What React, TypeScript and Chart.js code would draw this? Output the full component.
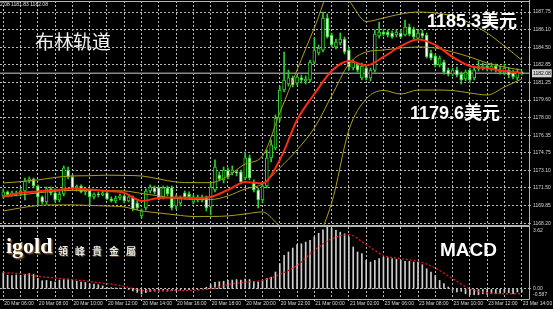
import React, { useEffect, useRef } from 'react';
import { Chart, registerables } from 'chart.js';

Chart.register(...registerables);

// ---------- data ----------
const timeLabels = [
  '20 Mar 06:00', '20 Mar 08:00', '20 Mar 10:00', '20 Mar 12:00', '20 Mar 14:00', '20 Mar 16:00',
  '20 Mar 18:00', '20 Mar 20:00', '20 Mar 22:00', '21 Mar 00:00', '21 Mar 02:00', '23 Mar 06:00',
  '23 Mar 08:00', '23 Mar 10:00', '23 Mar 12:00', '23 Mar 14:00',
];
const priceTickLabels = [
  '1187.75', '1186.10', '1184.50', '1182.85', '1181.25', '1179.60', '1178.00',
  '1176.35', '1174.75', '1173.10', '1171.50', '1169.85', '1168.20',
];
const macdTickLabels = ['3.62', '0.00', '-0.587'];
const macdTickValues = [3.62, 0, -0.587];
const lastPrice = 1182.08;
const priceMin = 1168.04;
const priceMax = 1188.77;
const macdMin = -0.587;
const macdMax = 3.62;
const barMin = -0.764;
const barMax = 121.69;

const opens = [
  1170.73, 1171.10, 1170.82, 1171.01, 1170.91, 1171.19, 1172.12, 1172.30, 1171.65, 1170.64,
  1170.17, 1171.38, 1171.01, 1170.36, 1170.91, 1173.13, 1172.49, 1171.47, 1171.65, 1171.10,
  1171.28, 1170.64, 1170.91, 1170.82, 1171.01, 1170.45, 1170.27, 1170.54, 1170.73, 1170.27,
  1170.64, 1170.08, 1168.88, 1169.62, 1171.19, 1171.47, 1171.47, 1170.64, 1171.47, 1171.47,
  1169.80, 1170.08, 1171.01, 1170.91, 1170.17, 1170.36, 1170.64, 1170.64, 1169.71, 1171.28,
  1172.67, 1172.21, 1173.13, 1172.86, 1172.95, 1172.95, 1172.39, 1174.25, 1172.02, 1171.28,
  1170.36, 1171.65, 1174.25, 1175.17, 1177.94, 1180.53, 1181.09, 1181.65, 1181.18, 1181.65,
  1181.37, 1181.46, 1183.12, 1183.96, 1184.23, 1187.20, 1185.62, 1184.51, 1184.88, 1185.25,
  1184.23, 1182.57, 1182.85, 1181.65, 1182.57, 1181.65, 1182.38, 1185.53, 1185.90, 1185.90,
  1185.81, 1185.62, 1185.81, 1185.62, 1186.36, 1186.18, 1185.34, 1185.81, 1185.62, 1183.96,
  1183.68, 1182.85, 1183.12, 1182.38, 1182.01, 1182.38, 1182.01, 1181.55, 1182.38, 1181.65,
  1182.48, 1182.57, 1182.75, 1182.48, 1182.75, 1182.20, 1182.11, 1182.38, 1182.11, 1181.65,
  1182.20,
];
const highs = [
  1171.38, 1171.19, 1171.19, 1171.19, 1171.47, 1172.39, 1172.49, 1172.39, 1171.75, 1170.73,
  1171.56, 1171.56, 1171.38, 1171.10, 1173.51, 1173.41, 1172.67, 1171.75, 1171.75, 1171.38,
  1171.38, 1171.01, 1171.10, 1171.19, 1171.10, 1170.64, 1170.73, 1170.91, 1170.82, 1170.73,
  1170.73, 1170.27, 1169.53, 1171.38, 1171.75, 1171.65, 1171.56, 1171.65, 1171.65, 1171.65,
  1170.82, 1170.73, 1171.19, 1171.10, 1170.82, 1170.82, 1170.82, 1170.73, 1171.93, 1174.06,
  1172.95, 1173.41, 1173.32, 1173.51, 1173.13, 1173.13, 1174.80, 1174.52, 1172.21, 1171.47,
  1171.93, 1174.99, 1175.91, 1178.22, 1180.90, 1184.05, 1182.38, 1181.83, 1181.92, 1181.92,
  1181.83, 1183.31, 1185.34, 1184.70, 1187.75, 1187.57, 1185.81, 1185.25, 1185.81, 1185.44,
  1184.42, 1183.31, 1183.03, 1183.03, 1182.75, 1182.57, 1186.09, 1186.83, 1186.18, 1186.09,
  1185.99, 1186.09, 1186.09, 1187.01, 1186.64, 1186.36, 1186.09, 1186.09, 1185.81, 1184.23,
  1183.86, 1183.68, 1183.31, 1182.57, 1182.57, 1182.66, 1182.20, 1182.38, 1182.57, 1182.75,
  1183.22, 1183.03, 1182.94, 1183.03, 1182.94, 1182.75, 1182.94, 1182.57, 1182.38, 1182.48,
  1182.29,
];
const lows = [
  1170.54, 1170.64, 1170.73, 1170.73, 1170.73, 1170.36, 1171.93, 1171.47, 1169.80, 1169.99,
  1169.99, 1170.82, 1170.17, 1170.17, 1170.73, 1172.30, 1171.38, 1171.19, 1171.01, 1170.82,
  1169.90, 1170.45, 1170.64, 1170.73, 1170.36, 1170.17, 1170.08, 1170.36, 1170.08, 1170.17,
  1169.34, 1169.43, 1168.69, 1169.43, 1171.01, 1170.91, 1170.36, 1170.45, 1170.73, 1169.43,
  1169.53, 1169.80, 1170.45, 1170.45, 1169.99, 1170.17, 1170.17, 1169.34, 1168.97, 1171.10,
  1172.12, 1171.93, 1172.30, 1172.67, 1172.58, 1171.84, 1172.21, 1172.21, 1171.10, 1169.62,
  1170.08, 1171.47, 1173.88, 1174.99, 1177.67, 1180.35, 1180.90, 1180.81, 1181.00, 1181.18,
  1181.09, 1181.27, 1182.94, 1183.77, 1184.05, 1185.34, 1184.51, 1184.33, 1184.70, 1183.86,
  1182.38, 1182.38, 1182.20, 1181.46, 1181.46, 1181.37, 1182.20, 1185.34, 1185.53, 1185.44,
  1185.34, 1185.44, 1185.34, 1185.53, 1185.53, 1185.25, 1185.16, 1185.34, 1183.49, 1183.31,
  1182.66, 1182.66, 1182.01, 1181.83, 1181.83, 1181.74, 1181.09, 1181.37, 1181.18, 1181.46,
  1182.29, 1182.38, 1182.29, 1182.29, 1182.20, 1182.01, 1181.92, 1181.65, 1181.55, 1181.46,
  1181.92,
];
const closes = [
  1171.10, 1170.82, 1171.01, 1170.91, 1171.19, 1172.12, 1172.30, 1171.65, 1170.64, 1170.17,
  1171.38, 1171.01, 1170.36, 1170.91, 1173.32, 1172.49, 1171.47, 1171.65, 1171.10, 1171.28,
  1170.64, 1170.91, 1170.82, 1171.01, 1170.45, 1170.27, 1170.54, 1170.73, 1170.27, 1170.64,
  1169.53, 1169.62, 1169.34, 1171.19, 1171.56, 1171.10, 1170.54, 1171.47, 1170.91, 1169.62,
  1170.64, 1170.54, 1170.64, 1170.64, 1170.64, 1170.64, 1170.36, 1169.62, 1171.56, 1173.41,
  1172.30, 1173.13, 1172.49, 1173.13, 1172.86, 1172.02, 1174.25, 1172.39, 1171.28, 1170.36,
  1171.65, 1174.25, 1175.45, 1177.94, 1180.53, 1181.46, 1181.65, 1181.00, 1181.74, 1181.46,
  1181.55, 1183.12, 1184.23, 1184.42, 1187.20, 1185.44, 1184.70, 1184.97, 1185.25, 1184.05,
  1182.66, 1183.12, 1182.38, 1182.75, 1181.65, 1182.38, 1185.71, 1185.90, 1185.71, 1185.62,
  1185.44, 1185.90, 1185.44, 1186.36, 1185.71, 1185.44, 1185.81, 1185.53, 1183.59, 1183.49,
  1182.85, 1183.49, 1182.20, 1182.01, 1182.38, 1181.92, 1181.46, 1182.20, 1181.46, 1182.38,
  1182.75, 1182.75, 1182.48, 1182.75, 1182.38, 1182.38, 1182.57, 1181.92, 1181.74, 1182.20,
  1182.08,
];

// bar indices where the indicator lines were sampled (also the vertical grid, every hour)
const sampleBars = [
  0, 4, 8, 12, 16, 20, 24, 28, 32, 36, 40, 44, 48, 52, 56, 60,
  64, 68, 72, 76, 80, 84, 88, 92, 96, 100, 104, 108, 112, 116, 120,
];
const bbUpper = [
  1171.93, 1172.05, 1172.21, 1172.44, 1172.58, 1172.60, 1172.65, 1172.63, 1172.58, 1172.30,
  1172.02, 1171.96, 1171.96, 1172.58, 1173.69, 1174.43, 1178.41, 1182.38, 1186.27, 1189.79,
  1188.77, 1186.87, 1187.20, 1187.57, 1187.75, 1187.66, 1187.38, 1186.73, 1185.81, 1184.60,
  1183.31,
];
const bbMiddle = [
  1170.64, 1170.82, 1171.01, 1171.17, 1171.24, 1171.24, 1171.22, 1171.19, 1170.96, 1170.73,
  1170.50, 1170.41, 1170.40, 1170.73, 1171.38, 1171.84, 1173.32, 1174.99, 1177.02, 1179.98,
  1182.94, 1184.05, 1184.23, 1184.42, 1184.51, 1184.42, 1184.05, 1183.59, 1183.03, 1182.66,
  1182.38,
];
const bbLower = [
  1169.34, 1169.62, 1169.85, 1169.90, 1169.90, 1169.85, 1169.80, 1169.71, 1169.34, 1169.16,
  1168.97, 1168.83, 1168.83, 1168.88, 1169.06, 1169.25, 1167.95, 1167.03, 1166.85, 1170.08,
  1176.83, 1179.70, 1180.49, 1180.16, 1180.53, 1180.53, 1180.49, 1180.26, 1180.07, 1180.81,
  1181.55,
];
const maRed = [
  1170.68, 1171.01, 1171.15, 1171.26, 1171.42, 1171.33, 1171.19, 1171.01, 1170.27, 1170.54,
  1170.59, 1170.52, 1170.64, 1171.28, 1172.02, 1171.90, 1174.06, 1177.76, 1180.16, 1182.29,
  1183.22, 1182.80, 1183.59, 1184.60, 1185.21, 1184.70, 1183.59, 1182.75, 1182.54, 1182.29,
  1182.11,
];

const macdHist = [
  0.95, 0.80, 0.78, 0.82, 0.80, 0.86, 0.90, 0.85,
  0.62, 0.48, 0.50, 0.45, 0.40, 0.52, 0.55, 0.58, 0.52,
  0.45, 0.40, 0.38, 0.30, 0.28, 0.25, 0.18, 0.10,
  0.08, 0.06, 0.05, 0.02, -0.02,
  -0.12, -0.20, -0.30, -0.22, -0.15, -0.12,
  -0.10, -0.08, -0.12, -0.10, -0.08, -0.06, -0.05, -0.04, -0.03, -0.02, 0.00,
  0.10, 0.25, 0.38, 0.42, 0.45, 0.50, 0.52, 0.55, 0.52, 0.58, 0.55, 0.45, 0.40, 0.50, 0.62, 0.70, 0.99,
  1.48, 1.96, 2.16, 2.39, 2.59, 2.64, 2.74, 2.84, 3.03, 3.25, 3.45, 3.62, 3.55, 3.42, 3.32, 3.22, 3.05,
  2.45, 2.16, 2.06, 1.67, 1.57, 1.67, 1.77, 1.86, 1.83, 1.77, 1.73, 1.67, 1.61, 1.61, 1.57, 1.57, 1.42, 1.18, 0.99, 0.79,
  0.50, 0.31, 0.11, -0.08, -0.18, -0.14, -0.28, -0.34, -0.34, -0.34, -0.28, -0.32, -0.28, -0.28, -0.24, -0.18, -0.22, -0.28, -0.18, -0.18,
];
const macdSignal = [
  0.95, 0.89, 0.74, 0.64, 0.54, 0.44, 0.31, 0.15, -0.08, -0.12,
  -0.10, -0.08, 0.01, 0.25, 0.40, 0.50, 0.85, 1.38, 2.26, 2.93,
  3.17, 2.59, 1.96, 1.77, 1.61, 1.22, 0.60, 0.01, -0.22, -0.28,
  -0.28,
];

// ---------- styles ----------
const GRID = '#bcbcbc';
const GRID_DASH = [2, 2];
const FRAME = '#b4b4b4';
const LABEL = '#d6d6d6';
const CANDLE = '#2fd02f';
const OLIVE = '#ac9e1a';
const RED = '#ff2a10';
const AXIS_FONT = "'Liberation Sans', Arial, sans-serif";

function framePlugin(id: string, drawTop: boolean) {
  return {
    id,
    afterDraw(chart: any) {
      const { ctx, chartArea: a } = chart;
      ctx.save();
      ctx.strokeStyle = FRAME;
      ctx.lineWidth = 1;
      ctx.beginPath();
      const topY = drawTop ? a.top + 0.5 : 0.5;
      ctx.moveTo(0, topY);
      ctx.lineTo(a.right + 0.5, topY);
      ctx.moveTo(0, a.bottom + 0.5);
      ctx.lineTo(a.right + 0.5, a.bottom + 0.5);
      ctx.moveTo(a.right + 0.5, 0);
      ctx.lineTo(a.right + 0.5, a.bottom + 0.5);
      ctx.stroke();
      ctx.restore();
    },
  };
}

const bidLinePlugin = {
  id: 'bidLine',
  beforeDatasetsDraw(chart: any) {
    const { ctx, chartArea: a, scales } = chart;
    const y = scales.y.getPixelForValue(lastPrice);
    ctx.save();
    ctx.strokeStyle = '#8a8a8a';
    ctx.lineWidth = 1.5;
    ctx.beginPath();
    ctx.moveTo(a.left, y);
    ctx.lineTo(a.right, y);
    ctx.stroke();
    ctx.restore();
  },
};

export default function App() {
  const mainRef = useRef<HTMLCanvasElement>(null);
  const macdRef = useRef<HTMLCanvasElement>(null);

  useEffect(() => {
    document.body.style.margin = '0';
    document.body.style.background = '#000';

    const yTickTexts = [...priceTickLabels, lastPrice.toFixed(2)];
    const bidIndex = priceTickLabels.length;

    const xGridScale = (showLabels: boolean) => ({
      type: 'linear' as const,
      min: barMin,
      max: barMax,
      offset: false,
      afterBuildTicks: (s: any) => {
        s.ticks = sampleBars.map((v) => ({ value: v }));
      },
      afterFit: (s: any) => {
        s.height = showLabels ? 10 : 0;
        s.paddingLeft = 0;
        s.paddingRight = 0;
      },
      ticks: showLabels
        ? {
            display: true,
            autoSkip: false,
            maxRotation: 0,
            minRotation: 0,
            align: 'start' as const,
            labelOffset: 1,
            padding: 0,
            color: LABEL,
            font: { family: AXIS_FONT, size: 5 },
            callback: (v: any) => (Number(v) % 8 === 0 ? timeLabels[Number(v) / 8] : ''),
          }
        : { display: false },
      grid: {
        offset: false,
        color: GRID,
        lineWidth: 1,
        drawTicks: showLabels,
        tickLength: 2,
        tickColor: (c: any) => (c.tick && c.tick.value % 8 === 0 ? LABEL : 'transparent'),
      },
      border: { display: false, dash: GRID_DASH },
    });

    const main = new Chart(mainRef.current as HTMLCanvasElement, {
      type: 'bar',
      data: {
        datasets: [
          {
            type: 'line',
            data: sampleBars.map((x, k) => ({ x, y: maRed[k] })),
            borderColor: RED,
            borderWidth: 2,
            pointRadius: 0,
            cubicInterpolationMode: 'monotone',
            order: 0,
          } as any,
          {
            type: 'line',
            data: sampleBars.map((x, k) => ({ x, y: bbUpper[k] })),
            borderColor: OLIVE,
            borderWidth: 1,
            pointRadius: 0,
            cubicInterpolationMode: 'monotone',
            order: 1,
          } as any,
          {
            type: 'line',
            data: sampleBars.map((x, k) => ({ x, y: bbMiddle[k] })),
            borderColor: OLIVE,
            borderWidth: 1,
            pointRadius: 0,
            cubicInterpolationMode: 'monotone',
            order: 1,
          } as any,
          {
            type: 'line',
            data: sampleBars.map((x, k) => ({ x, y: bbLower[k] })),
            borderColor: OLIVE,
            borderWidth: 1,
            pointRadius: 0,
            cubicInterpolationMode: 'monotone',
            order: 1,
          } as any,
          {
            type: 'bar',
            data: opens.map((o, i) => ({ x: i, y: [o, closes[i]] })),
            backgroundColor: opens.map((o, i) => (closes[i] < o ? '#ffffff' : '#000000')),
            borderColor: CANDLE,
            borderWidth: 1,
            borderSkipped: false,
            barThickness: 3,
            minBarLength: 1,
            grouped: false,
            order: 2,
          } as any,
          {
            type: 'bar',
            data: highs.map((h, i) => ({ x: i, y: [lows[i], h] })),
            backgroundColor: CANDLE,
            borderWidth: 0,
            barThickness: 1,
            grouped: false,
            order: 3,
          } as any,
        ],
      },
      options: {
        animation: false,
        responsive: false,
        devicePixelRatio: 1,
        events: [],
        layout: { padding: { top: 1, bottom: 1, left: 0, right: 0 } },
        plugins: { legend: { display: false }, tooltip: { enabled: false } },
        scales: {
          x: xGridScale(false) as any,
          y: {
            type: 'linear',
            position: 'right',
            min: priceMin,
            max: priceMax,
            beginAtZero: false,
            afterBuildTicks: (s: any) => {
              s.ticks = [...priceTickLabels.map((t) => ({ value: parseFloat(t) })), { value: lastPrice }];
            },
            afterFit: (s: any) => {
              s.width = 24;
              s.paddingTop = 0;
              s.paddingBottom = 0;
            },
            ticks: {
              autoSkip: false,
              padding: 2,
              font: { family: AXIS_FONT, size: 5 },
              color: (c: any) => (c.index === bidIndex ? '#000000' : LABEL),
              showLabelBackdrop: (c: any) => c.index === bidIndex,
              backdropColor: '#d4d4d4',
              backdropPadding: 1,
              callback: (_v: any, i: number) => yTickTexts[i],
            },
            grid: {
              color: (c: any) => (c.index === bidIndex ? 'transparent' : GRID),
              tickLength: 2,
              tickColor: (c: any) => (c.index === bidIndex ? 'transparent' : '#9a9a9a'),
            },
            border: { display: false, dash: GRID_DASH },
          } as any,
        },
      },
      plugins: [framePlugin('frameMain', true), bidLinePlugin],
    });

    const macd = new Chart(macdRef.current as HTMLCanvasElement, {
      type: 'bar',
      data: {
        datasets: [
          {
            type: 'line',
            data: sampleBars.map((x, k) => ({ x, y: macdSignal[k] })),
            borderColor: '#e01818',
            borderWidth: 1.3,
            borderDash: [2, 2],
            pointRadius: 0,
            cubicInterpolationMode: 'monotone',
            order: 0,
          } as any,
          {
            type: 'bar',
            data: macdHist.map((v, i) => ({ x: i, y: v })),
            backgroundColor: '#cfcfcf',
            borderWidth: 0,
            barThickness: 1,
            grouped: false,
            order: 1,
          } as any,
        ],
      },
      options: {
        animation: false,
        responsive: false,
        devicePixelRatio: 1,
        events: [],
        layout: { padding: { top: 1, bottom: 0, left: 0, right: 0 } },
        plugins: { legend: { display: false }, tooltip: { enabled: false } },
        scales: {
          x: xGridScale(true) as any,
          y: {
            type: 'linear',
            position: 'right',
            min: macdMin,
            max: macdMax,
            beginAtZero: false,
            afterBuildTicks: (s: any) => {
              s.ticks = macdTickValues.map((v) => ({ value: v }));
            },
            afterFit: (s: any) => {
              s.width = 24;
              s.paddingTop = 0;
              s.paddingBottom = 0;
            },
            ticks: {
              autoSkip: false,
              padding: 2,
              color: LABEL,
              font: { family: AXIS_FONT, size: 5, lineHeight: 1.6 },
              callback: (_v: any, i: number) =>
                i === 0 ? ['', macdTickLabels[0]] : i === macdTickLabels.length - 1 ? [macdTickLabels[i], ''] : macdTickLabels[i],
            },
            grid: {
              color: (c: any) => (c.tick && c.tick.value === 0 ? GRID : 'transparent'),
              tickLength: 2,
              tickColor: (c: any) => (c.tick && c.tick.value === 0 ? '#9a9a9a' : 'transparent'),
            },
            border: { display: false, dash: GRID_DASH },
          } as any,
        },
      },
      plugins: [framePlugin('frameMacd', false)],
    });

    return () => {
      main.destroy();
      macd.destroy();
    };
  }, []);

  const bigFont = "'Liberation Sans', Arial, 'Noto Sans CJK SC', sans-serif";

  return (
    <div
      style={{
        position: 'fixed',
        left: 0,
        top: 0,
        width: 553,
        height: 309,
        background: '#000',
        overflow: 'hidden',
      }}
    >
      <canvas ref={mainRef} width={553} height={226} style={{ position: 'absolute', left: 0, top: 0, width: 553, height: 226 }} />
      <canvas ref={macdRef} width={553} height={83} style={{ position: 'absolute', left: 0, top: 226, width: 553, height: 83 }} />

      <div style={{ position: 'absolute', left: 0, top: 1, fontFamily: bigFont, fontSize: 5, lineHeight: '6px', color: '#e0e0e0', whiteSpace: 'nowrap' }}>
        2.08 1181.83 1182.08
      </div>

      <div style={{ position: 'absolute', left: 35, top: 31, fontFamily: "'Noto Sans CJK SC', sans-serif", fontSize: 19, lineHeight: '19px', color: '#f2f2f2', whiteSpace: 'nowrap' }}>
        布林轨道
      </div>

      <div style={{ position: 'absolute', left: 427, top: 12, fontFamily: bigFont, fontWeight: 'bold', fontSize: 18, lineHeight: '18px', color: '#ffffff', whiteSpace: 'nowrap' }}>
        1185.3美元
      </div>

      <div style={{ position: 'absolute', left: 410, top: 104, fontFamily: bigFont, fontWeight: 'bold', fontSize: 18, lineHeight: '18px', color: '#ffffff', whiteSpace: 'nowrap' }}>
        1179.6美元
      </div>

      <div style={{ position: 'absolute', left: 440, top: 240, fontFamily: bigFont, fontWeight: 'bold', fontSize: 19, lineHeight: '19px', color: '#ffffff', whiteSpace: 'nowrap' }}>
        MACD
      </div>

      <div
        style={{
          position: 'absolute',
          left: 6,
          top: 235,
          fontFamily: "'Liberation Serif', 'DejaVu Serif', serif",
          fontWeight: 'bold',
          fontSize: 22,
          lineHeight: '22px',
          color: '#ffffff',
          whiteSpace: 'nowrap',
          textShadow: '1px 1px 0 #7a5426, 2px 2px 1px #3c2a12',
        }}
      >
        igold
      </div>
      <div
        style={{
          position: 'absolute',
          left: 58,
          top: 246,
          fontFamily: "'Noto Sans CJK TC', sans-serif",
          fontWeight: 'bold',
          fontSize: 10,
          lineHeight: '10px',
          letterSpacing: 7,
          color: '#e6e6e6',
          whiteSpace: 'nowrap',
          textShadow: '1px 1px 0 #4a3a20',
        }}
      >
        領峰貴金屬
      </div>
    </div>
  );
}
